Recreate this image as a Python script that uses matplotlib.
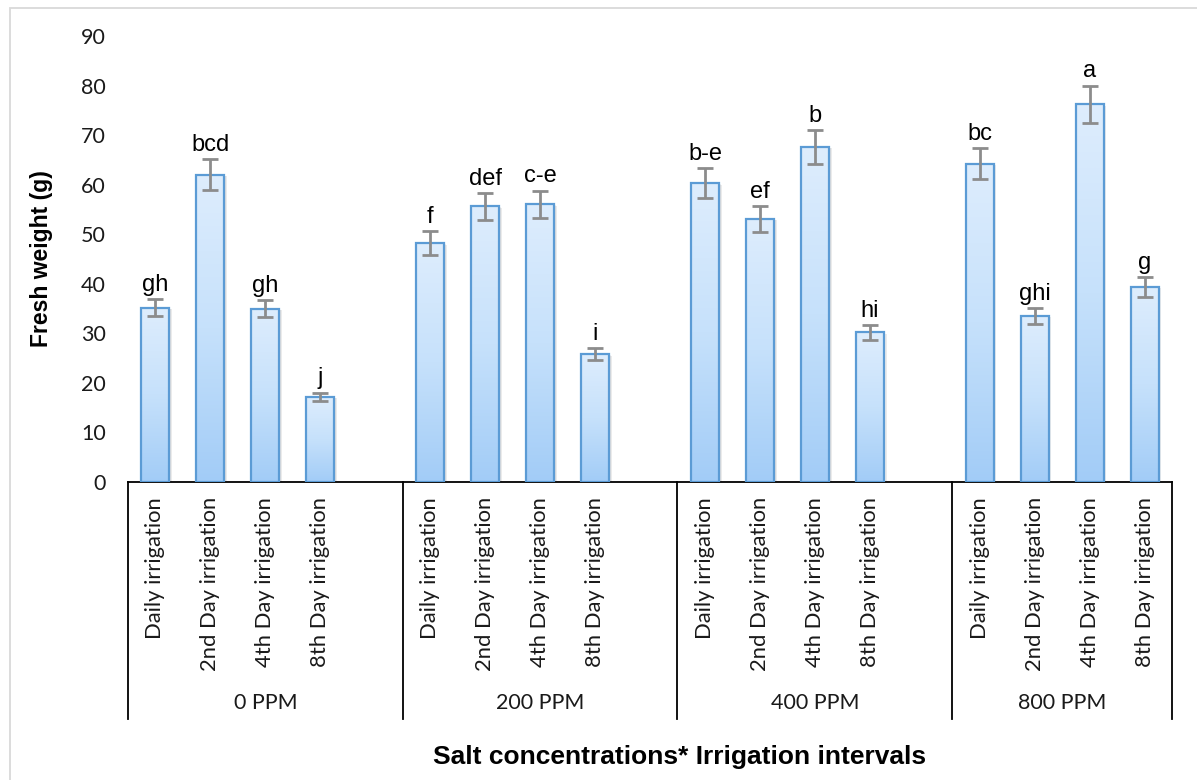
import matplotlib
matplotlib.use("Agg")
import matplotlib.pyplot as plt
import numpy as np
from matplotlib.colors import LinearSegmentedColormap
from matplotlib.patches import Rectangle

# ---- data ----
salts = ["0 PPM", "200 PPM", "400 PPM", "800 PPM"]
intervals = ["Daily irrigation", "2nd Day irrigation", "4th Day irrigation", "8th Day irrigation"]
values = [
    [35.2, 62.0, 35.0, 17.2],
    [48.2, 55.6, 56.0, 25.8],
    [60.3, 53.1, 67.6, 30.2],
    [64.2, 33.5, 76.2, 39.4],
]
errors = [
    [1.75, 3.1, 1.7, 0.8],
    [2.4, 2.7, 2.8, 1.2],
    [3.0, 2.6, 3.4, 1.5],
    [3.1, 1.6, 3.8, 2.0],
]
letters = [
    ["gh", "bcd", "gh", "j"],
    ["f", "def", "c-e", "i"],
    ["b-e", "ef", "b", "hi"],
    ["bc", "ghi", "a", "g"],
]
yticks = [0, 10, 20, 30, 40, 50, 60, 70, 80, 90]

W, H = 1197, 780
fig = plt.figure(figsize=(W / 100, H / 100), dpi=100)
fig.patch.set_facecolor("white")

# outer chart border (light gray)
fig.add_artist(Rectangle((10 / W, -0.05), 1.2, 1 - 8 / H + 0.05, transform=fig.transFigure,
                         fill=False, edgecolor="#d9d9d9", linewidth=1.3))

ax_l, ax_r, ax_t, ax_b = 128, 1172, 36, 482
ax = fig.add_axes([ax_l / W, 1 - ax_b / H, (ax_r - ax_l) / W, (ax_b - ax_t) / H])
ax.set_xlim(0, 19)
ax.set_ylim(0, 90)
for s in ["top", "right", "left"]:
    ax.spines[s].set_visible(False)
ax.spines["bottom"].set_color("black")
ax.spines["bottom"].set_linewidth(1.3)
ax.set_yticks(yticks)
ax.set_yticklabels([str(t) for t in yticks], fontfamily="Lato", fontsize=15.5, color="#1a1a1a")
ax.tick_params(axis="y", length=0, pad=15.8)
ax.set_xticks([])

cmap = LinearSegmentedColormap.from_list("g", ["#a2ccf7", "#c6e1fb", "#deedfd"])
grad = np.linspace(0, 1, 256).reshape(-1, 1)
bw = 0.51

for g in range(4):
    for i in range(4):
        xc = g * 5 + i + 0.5
        v = values[g][i]
        e = errors[g][i]
        # soft shadow
        ax.bar(xc + 0.05, v, width=bw, bottom=-0.3, color="#000000", alpha=0.08, zorder=1, linewidth=0)
        ax.bar(xc + 0.03, v, width=bw, bottom=-0.2, color="#000000", alpha=0.06, zorder=1, linewidth=0)
        bars = ax.bar(xc, v, width=bw, facecolor="none", edgecolor="#5b9bd5", linewidth=1.6, zorder=3)
        rect = bars[0]
        im = ax.imshow(grad, extent=[xc - bw / 2, xc + bw / 2, 0, v], origin="lower",
                       aspect="auto", cmap=cmap, zorder=2)
        im.set_clip_path(rect)
        ax.errorbar(xc, v, yerr=e, fmt="none", ecolor="#8c8c8c", elinewidth=2, capsize=6,
                    capthick=2, zorder=4)
        ax.annotate(letters[g][i], (xc, v + e), xytext=(0, 6), textcoords="offset points",
                    ha="center", va="baseline", fontfamily="Liberation Sans", fontsize=17,
                    color="black")

ax.set_xlim(0, 19)
ax.set_ylim(0, 90)

# multi-level category axis drawn in pixel-based figure coordinates
def fx(px):
    return px / W

def fy(py):
    return 1 - py / H

slot = (ax_r - ax_l) / 19.0
bounds = [0, 5, 10, 15, 19]
for b in bounds:
    xp = ax_l + b * slot
    fig.add_artist(plt.Line2D([fx(xp), fx(xp)], [fy(ax_b), fy(719)], color="black", linewidth=1.3))

for g in range(4):
    for i in range(4):
        xp = ax_l + (g * 5 + i + 0.5) * slot
        fig.text(fx(xp), fy(497), intervals[i], rotation=90, ha="center", va="top",
                 fontfamily="Lato", fontsize=15.8, color="#1a1a1a")
    x0 = ax_l + bounds[g] * slot
    x1 = ax_l + bounds[g + 1] * slot
    fig.text(fx((x0 + x1) / 2), fy(703), salts[g], ha="center", va="center",
             fontfamily="Lato", fontsize=15.5, color="#1a1a1a")

fig.text(fx(42), fy(259), "Fresh weight (g)", rotation=90, ha="center", va="center",
         fontfamily="Liberation Sans", fontweight="bold", fontsize=16.5, color="black")
fig.text(fx(680), fy(757), "Salt concentrations* Irrigation intervals", ha="center", va="center",
         fontfamily="Liberation Sans", fontweight="bold", fontsize=19, color="black")

fig.savefig("out.png", dpi=100, facecolor="white")
